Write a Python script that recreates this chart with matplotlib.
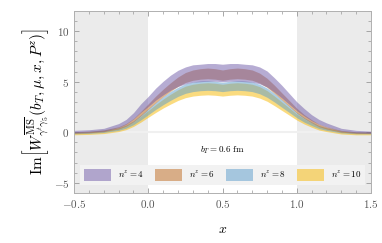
import matplotlib

matplotlib.use("Agg")
import matplotlib.pyplot as plt
from matplotlib.patches import Patch
from matplotlib.ticker import MultipleLocator, FuncFormatter

plt.rcParams["mathtext.fontset"] = "cm"
plt.rcParams["font.family"] = "serif"

x = [-0.5, -0.4, -0.3, -0.2, -0.15, -0.1, -0.05, 0.0, 0.05, 0.1, 0.15, 0.2, 0.25,
     0.3, 0.35, 0.4, 0.45, 0.5, 0.55, 0.6, 0.65, 0.7, 0.75, 0.8, 0.85, 0.9, 0.95,
     1.0, 1.05, 1.1, 1.15, 1.2, 1.3, 1.4, 1.5]

nz4_hi = [0.19, 0.25, 0.39, 0.86, 1.27, 1.94, 2.82, 3.56, 4.37, 5.05, 5.65, 6.13, 6.46,
          6.67, 6.73, 6.80, 6.80, 6.73, 6.80, 6.80, 6.73, 6.67, 6.46, 6.06, 5.38, 4.64, 3.83,
          3.02, 2.35, 1.74, 1.27, 0.93, 0.39, 0.19, 0.12]
nz4_lo = [-0.05, 0.01, 0.11, 0.47, 0.79, 1.31, 1.98, 2.55, 3.18, 3.70, 4.17, 4.53, 4.79,
          4.95, 5.00, 5.05, 5.05, 5.00, 5.05, 5.05, 5.00, 4.95, 4.79, 4.48, 3.96, 3.39, 2.76,
          2.14, 1.62, 1.15, 0.79, 0.53, 0.11, -0.05, -0.10]
nz6_hi = [0.05, 0.11, 0.24, 0.55, 0.87, 1.37, 2.07, 2.82, 3.58, 4.27, 4.90, 5.47, 5.91,
          6.16, 6.29, 6.35, 6.29, 6.16, 6.29, 6.35, 6.29, 6.16, 5.85, 5.34, 4.65, 3.89, 3.14,
          2.38, 1.75, 1.25, 0.81, 0.55, 0.18, 0.05, 0.05]
nz6_lo = [-0.10, -0.05, 0.06, 0.33, 0.60, 1.03, 1.63, 2.28, 2.92, 3.52, 4.06, 4.54, 4.92,
          5.14, 5.25, 5.30, 5.25, 5.14, 5.25, 5.30, 5.25, 5.14, 4.87, 4.44, 3.84, 3.19, 2.55,
          1.90, 1.36, 0.93, 0.55, 0.33, 0.01, -0.10, -0.10]
nz8_hi = [0.05, 0.10, 0.21, 0.47, 0.73, 1.14, 1.71, 2.34, 2.96, 3.53, 4.05, 4.45, 4.80,
          4.98, 5.08, 5.12, 5.05, 4.95, 5.05, 5.12, 5.08, 4.98, 4.75, 4.38, 3.85, 3.22, 2.60,
          1.97, 1.45, 1.04, 0.67, 0.47, 0.15, 0.05, 0.05]
nz8_lo = [-0.15, -0.11, -0.02, 0.19, 0.41, 0.75, 1.23, 1.74, 2.26, 2.73, 3.16, 3.55, 3.85,
          4.02, 4.11, 4.15, 4.11, 4.02, 4.11, 4.15, 4.11, 4.02, 3.81, 3.46, 2.99, 2.47, 1.96,
          1.44, 1.01, 0.67, 0.37, 0.19, -0.06, -0.15, -0.15]
nz10_hi = [0.0, 0.05, 0.15, 0.39, 0.64, 1.03, 1.57, 2.16, 2.74, 3.28, 3.77, 4.21, 4.56,
           4.75, 4.85, 4.90, 4.85, 4.75, 4.85, 4.90, 4.85, 4.75, 4.51, 4.12, 3.58, 2.99, 2.40,
           1.81, 1.32, 0.93, 0.59, 0.39, 0.10, 0.0, 0.0]
nz10_lo = [-0.25, -0.21, -0.13, 0.07, 0.26, 0.58, 1.01, 1.49, 1.96, 2.40, 2.79, 3.15, 3.42,
           3.58, 3.66, 3.70, 3.66, 3.58, 3.66, 3.70, 3.66, 3.58, 3.38, 3.07, 2.63, 2.16, 1.69,
           1.21, 0.82, 0.50, 0.22, 0.07, -0.17, -0.25, -0.25]

labels = ["$n^z=4$", "$n^z=6$", "$n^z=8$", "$n^z=10$"]
colors = ["#6f5aa8", "#c06a1e", "#5a9ccb", "#f7b800"]
ALPHA = 0.5

fig = plt.figure(figsize=(3.82, 2.43), dpi=100)
ax = fig.add_axes([0.194, 0.206, 0.777, 0.749])

ax.axvspan(-0.5, 0.0, color="#ebebeb", lw=0, zorder=0)
ax.axvspan(1.0, 1.5, color="#ebebeb", lw=0, zorder=0)
ax.axhline(0, color="#f0f0f0", lw=1.5, zorder=0.5)

bands = [(nz10_lo, nz10_hi), (nz8_lo, nz8_hi), (nz6_lo, nz6_hi), (nz4_lo, nz4_hi)]
for (lo, hi), c in zip(bands, colors[::-1]):
    ax.fill_between(x, lo, hi, color=c, alpha=ALPHA, lw=0, zorder=2)

ax.text(0.5, -1.75, r"$b_T = 0.6\ \mathrm{fm}$", ha="center", va="center", fontsize=6.5)

handles = [Patch(facecolor=c, alpha=ALPHA, edgecolor="none") for c in colors]
leg = ax.legend(handles, labels, loc="lower center", ncol=4, fontsize=6.5,
                bbox_to_anchor=(0.5, 0.02), frameon=True, fancybox=False,
                handlelength=3.0, handleheight=1.6, columnspacing=1.2, handletextpad=0.8,
                borderpad=0.45)
leg.get_frame().set_facecolor("#f2f2f2")
leg.get_frame().set_edgecolor("none")
leg.get_frame().set_alpha(1.0)

ax.set_xlim(-0.5, 1.5)
ax.set_ylim(-6, 12)
ax.xaxis.set_major_locator(MultipleLocator(0.5))
ax.xaxis.set_minor_locator(MultipleLocator(0.1))
ax.yaxis.set_major_locator(MultipleLocator(5))
ax.yaxis.set_minor_locator(MultipleLocator(1))
ax.xaxis.set_major_formatter(FuncFormatter(lambda v, p: f"${v:.1f}$"))
ax.yaxis.set_major_formatter(FuncFormatter(lambda v, p: f"${v:.0f}$"))
ax.tick_params(which="both", direction="in", top=True, right=True, colors="#999999",
               labelcolor="#555555", labelsize=8)
ax.tick_params(which="major", length=3.5, width=0.6)
ax.tick_params(which="minor", length=2, width=0.5)
for s in ax.spines.values():
    s.set_color("#b0b0b0")
    s.set_linewidth(0.7)

ax.set_xlabel("$x$", fontsize=10, labelpad=9)
ax.set_ylabel(r"$\mathrm{Im}\left[W^{\overline{\mathrm{MS}}}_{\gamma^t\gamma_5}(b_T,\mu,x,P^z)\right]$",
              fontsize=11, labelpad=2)

fig.savefig("out.png", dpi=100)
